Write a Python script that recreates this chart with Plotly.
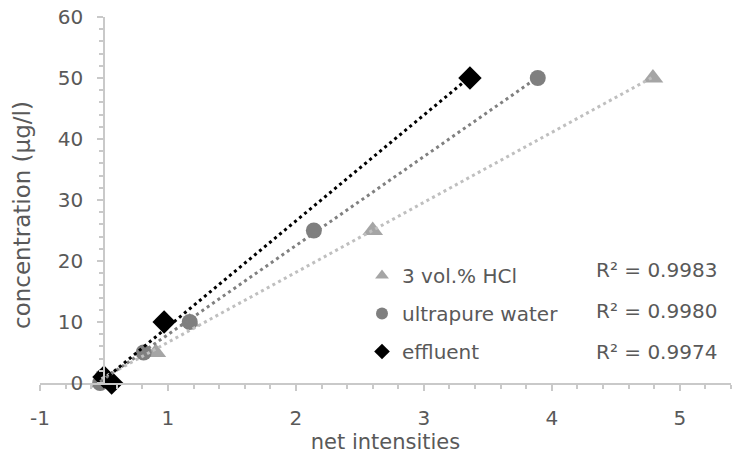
import numpy as np
import plotly.graph_objects as go

# ---- data ----
series_names = ["3 vol.% HCl", "ultrapure water", "effluent"]

hcl_x = [0.48, 0.50, 0.905, 1.17, 2.60, 4.79]
hcl_y = [0, 1, 5, 10, 25, 50]

water_x = [0.47, 0.49, 0.81, 1.17, 2.14, 3.89]
water_y = [0, 1, 5, 10, 25, 50]

eff_x = [0.56, 0.50, 0.97, 3.36]
eff_y = [0, 1, 10, 50]

r2_labels = ["R² = 0.9983", "R² = 0.9980", "R² = 0.9974"]

x_tickvals = [0, 1, 2, 3, 4, 5]
x_ticktext = ["-1", "1", "2", "3", "4", "5"]

x_range = [0, 5.4]
y_range = [0, 60]
y_axis_cross = 0.5

# ---- styles ----
FONT = "DejaVu Sans"
TXT = "#595959"
AXC = "#C9C9C9"
marker_colors = ["#A5A5A5", "#7F7F7F", "#000000"]
line_colors = ["#BFBFBF", "#808080", "#000000"]
symbols = ["triangle-up", "circle", "diamond"]
sizes = [18, 16, 18]

xs = [hcl_x, water_x, eff_x]
ys = [hcl_y, water_y, eff_y]

fig = go.Figure()

for i in range(3):
    fig.add_trace(go.Scatter(
        x=xs[i], y=ys[i], mode="markers", name=series_names[i],
        marker=dict(symbol=symbols[i], size=sizes[i], color=marker_colors[i],
                    line=dict(width=0)),
        cliponaxis=False, legendgroup=f"g{i}",
    ))

# linear trendlines (least squares), spanning the data's x extent
for i in range(3):
    xa = np.array(xs[i], dtype=float)
    ya = np.array(ys[i], dtype=float)
    a, b = np.polyfit(xa, ya, 1)
    xl = np.array([xa.min(), xa.max()])
    fig.add_trace(go.Scatter(
        x=xl, y=a * xl + b, mode="lines", showlegend=False,
        line=dict(color=line_colors[i], width=3, dash="3px,3.5px"),
        cliponaxis=False, hoverinfo="skip",
    ))

W, H = 733, 454
ml, mr, mt, mb = 40, 2, 17, 71
pw = W - ml - mr
ph = H - mt - mb

def px_x(p):
    return (p - ml) / pw

def px_y(p):
    return 1 - (p - mt) / ph

r2_rows = [269.5, 310.5, 352]
for lab, ry in zip(r2_labels, r2_rows):
    fig.add_annotation(
        text=lab, xref="paper", yref="paper", x=px_x(594), y=px_y(ry),
        xanchor="left", yanchor="middle", showarrow=False,
        font=dict(family=FONT, size=20, color=TXT),
    )

fig.add_annotation(
    text="concentration (µg/l)", xref="paper", yref="paper",
    x=px_x(22), y=px_y(215), textangle=-90, showarrow=False,
    xanchor="center", yanchor="middle",
    font=dict(family=FONT, size=23, color=TXT),
)

fig.update_layout(
    width=W, height=H, autosize=False,
    margin=dict(l=ml, r=mr, t=mt, b=mb),
    paper_bgcolor="white", plot_bgcolor="white",
    font=dict(family=FONT, size=20, color=TXT),
    showlegend=True,
    legend=dict(
        x=px_x(362), y=px_y(256), xanchor="left", yanchor="top",
        bgcolor="rgba(0,0,0,0)", borderwidth=0,
        font=dict(family=FONT, size=20, color=TXT),
        traceorder="grouped", tracegroupgap=9,
        itemsizing="constant",
    ),
    xaxis=dict(
        range=x_range, showgrid=False, zeroline=False,
        showline=True, linecolor=AXC, linewidth=1.5,
        tickmode="array", tickvals=x_tickvals, ticktext=x_ticktext,
        ticks="outside", ticklen=6, tickwidth=1.5, tickcolor=AXC,
        ticklabelstandoff=10,
        minor=dict(tickmode="linear", tick0=0, dtick=0.2, ticks="outside",
                   ticklen=4, tickwidth=1.5, tickcolor=AXC),
        tickfont=dict(family=FONT, size=20, color=TXT),
        title=dict(text="net intensities", standoff=6,
                   font=dict(family=FONT, size=21, color=TXT)),
    ),
    yaxis=dict(
        range=y_range, showgrid=False, zeroline=False,
        anchor="free",
        position=(y_axis_cross - x_range[0]) / (x_range[1] - x_range[0]),
        showline=True, linecolor=AXC, linewidth=1.5,
        tickmode="linear", tick0=0, dtick=10,
        ticks="outside", ticklen=6, tickwidth=1.5, tickcolor=AXC,
        ticklabelstandoff=10,
        minor=dict(tickmode="linear", tick0=0, dtick=2, ticks="outside",
                   ticklen=4, tickwidth=1.5, tickcolor=AXC),
        tickfont=dict(family=FONT, size=20, color=TXT),
    ),
)

fig.write_html("out.html")
